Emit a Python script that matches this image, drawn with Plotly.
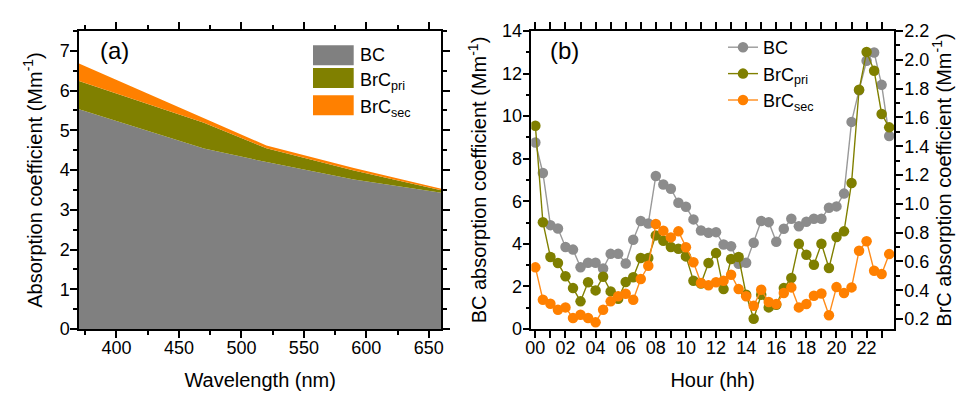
import plotly.graph_objects as go

# ---------------- data ----------------
wavelength = [370, 470, 520, 590, 660]
bc_abs = [5.53, 4.54, 4.20, 3.76, 3.43]
brc_pri_abs = [0.71, 0.65, 0.35, 0.23, 0.06]
brc_sec_abs = [0.44, 0.13, 0.07, 0.06, 0.04]

hours = [0, 0.5, 1, 1.5, 2, 2.5, 3, 3.5, 4, 4.5, 5, 5.5, 6, 6.5, 7, 7.5,
         8, 8.5, 9, 9.5, 10, 10.5, 11, 11.5, 12, 12.5, 13, 13.5, 14, 14.5,
         15, 15.5, 16, 16.5, 17, 17.5, 18, 18.5, 19, 19.5, 20, 20.5, 21,
         21.5, 22, 22.5, 23, 23.5]
bc_hourly = [8.76, 7.33, 4.88, 4.72, 3.85, 3.73, 2.90, 3.11, 3.11, 2.84, 3.53,
             3.53, 3.08, 4.19, 5.07, 4.96, 7.19, 6.79, 6.59, 5.93, 5.74, 5.15,
             4.63, 4.52, 4.55, 3.97, 3.89, 3.06, 3.11, 4.05, 5.07, 5.02, 4.10,
             4.71, 5.18, 4.83, 5.04, 5.18, 5.18, 5.70, 5.76, 6.36, 9.73, 11.22,
             12.60, 12.99, 11.47, 9.07]
brc_pri_hourly = [1.542, 0.872, 0.631, 0.589, 0.497, 0.415, 0.323, 0.455, 0.399,
                  0.494, 0.392, 0.341, 0.457, 0.490, 0.624, 0.624, 0.781, 0.744,
                  0.700, 0.688, 0.635, 0.466, 0.447, 0.589, 0.658, 0.408, 0.617,
                  0.631, 0.369, 0.202, 0.369, 0.281, 0.299, 0.415, 0.485, 0.723,
                  0.647, 0.577, 0.723, 0.554, 0.769, 0.809, 1.145, 1.792, 2.054,
                  1.924, 1.624, 1.531]
brc_sec_hourly = [0.559, 0.334, 0.306, 0.265, 0.281, 0.207, 0.230, 0.207, 0.177,
                  0.265, 0.323, 0.358, 0.376, 0.334, 0.478, 0.570, 0.860, 0.813,
                  0.767, 0.809, 0.698, 0.594, 0.450, 0.434, 0.455, 0.466, 0.508,
                  0.408, 0.358, 0.292, 0.404, 0.318, 0.304, 0.381, 0.420, 0.281,
                  0.304, 0.362, 0.378, 0.226, 0.422, 0.381, 0.420, 0.674, 0.740,
                  0.536, 0.513, 0.651]

hour_tickvals = [0, 2, 4, 6, 8, 10, 12, 14, 16, 18, 20, 22]
hour_ticktext = ["00", "02", "04", "06", "08", "10", "12", "14", "16", "18", "20", "22"]

area_names = ["BC", "BrC<sub>pri</sub>", "BrC<sub>sec</sub>"]
area_colors = ["#808080", "#808000", "#ff8000"]
line_colors = ["#999999", "#808000", "#ff8c1a"]
marker_colors = ["#8c8c8c", "#7f7f00", "#ff8000"]

FONT = "Arial, Liberation Sans, sans-serif"
W, H = 965, 393
ML, MR, MT, MB = 71, 79, 23, 72
PW = W - ML - MR
PH = H - MT - MB


def px2paper_x(px):
    return (px - ML) / PW


def px2paper_y(py):
    return (H - MB - py) / PH


fig = go.Figure()

# ---------------- panel (a): stacked areas ----------------
for vals, name, col in zip([bc_abs, brc_pri_abs, brc_sec_abs], area_names, area_colors):
    fig.add_trace(go.Scatter(
        x=wavelength, y=vals, name=name, mode="lines", stackgroup="abs",
        line=dict(width=0, color=col), fillcolor=col,
        xaxis="x", yaxis="y", showlegend=False))

# ---------------- panel (b): diurnal lines ----------------
fig.add_trace(go.Scatter(
    x=hours, y=bc_hourly, name="BC", mode="lines+markers",
    line=dict(color=line_colors[0], width=1.4),
    marker=dict(color=marker_colors[0], size=10.5),
    xaxis="x2", yaxis="y2"))
fig.add_trace(go.Scatter(
    x=hours, y=brc_pri_hourly, name="BrC<sub>pri</sub>", mode="lines+markers",
    line=dict(color=line_colors[1], width=1.4),
    marker=dict(color=marker_colors[1], size=10.5),
    xaxis="x2", yaxis="y3"))
fig.add_trace(go.Scatter(
    x=hours, y=brc_sec_hourly, name="BrC<sub>sec</sub>", mode="lines+markers",
    line=dict(color=line_colors[2], width=1.4),
    marker=dict(color=marker_colors[2], size=10.5),
    xaxis="x2", yaxis="y3"))

axis_common = dict(
    showline=True, linecolor="black", linewidth=1.5, ticks="outside",
    ticklen=7, tickwidth=1.5, tickcolor="black", showgrid=False, zeroline=False,
    tickfont=dict(family=FONT, size=18, color="black"),
)
title_font = dict(family=FONT, size=20, color="black")

fig.update_layout(
    width=W, height=H,
    margin=dict(l=ML, r=MR, t=MT, b=MB),
    paper_bgcolor="white", plot_bgcolor="white",
    font=dict(family=FONT, color="black"),
    xaxis=dict(**axis_common, domain=[0, px2paper_x(433.3)], range=[370, 660],
               dtick=50, tick0=400, mirror="allticks", ticklabelstandoff=-5,
               minor=dict(dtick=25, tick0=375, ticklen=4, tickwidth=1.5, tickcolor="black", ticks="outside"),
               title=dict(text="Wavelength (nm)", font=title_font, standoff=16)),
    yaxis=dict(**axis_common, range=[0, 7.5], dtick=1, mirror="allticks",
               anchor="x", ticklabelstandoff=-3,
               minor=dict(dtick=0.5, ticklen=4, tickwidth=1.5, tickcolor="black", ticks="outside"),
               title=dict(text="Absorption coefficient (Mm<sup>-1</sup>)", font=title_font, standoff=12)),
    xaxis2=dict(**axis_common, domain=[px2paper_x(523.3), 1], range=[-0.27, 23.82],
                tickmode="array", tickvals=hour_tickvals, ticktext=hour_ticktext,
                mirror="allticks", anchor="y2", ticklabelstandoff=-5,
                minor=dict(tickmode="linear", dtick=1, tick0=0, ticklen=4, tickwidth=1.5,
                           tickcolor="black", ticks="outside"),
                title=dict(text="Hour (hh)", font=title_font, standoff=16)),
    yaxis2=dict(**axis_common, range=[0, 14], dtick=2, anchor="x2", ticklabelstandoff=-3,
                minor=dict(dtick=1, ticklen=4, tickwidth=1.5, tickcolor="black", ticks="outside"),
                title=dict(text="BC absorption coefficient (Mm<sup>-1</sup>)", font=title_font, standoff=10)),
    yaxis3=dict(**axis_common, range=[0.131, 2.2], dtick=0.2, tick0=0.2, tickformat=".1f",
                overlaying="y2", side="right", anchor="x2", ticklabelstandoff=-2,
                minor=dict(dtick=0.1, tick0=0.2, ticklen=4, tickwidth=1.5, tickcolor="black", ticks="outside"),
                title=dict(text="BrC absorption coefficient (Mm<sup>-1</sup>)", font=title_font, standoff=8)),
    legend=dict(x=px2paper_x(715), y=px2paper_y(21), xanchor="left", yanchor="top",
                bgcolor="rgba(0,0,0,0)", font=dict(family=FONT, size=18, color="black"),
                itemwidth=30, tracegroupgap=0, traceorder="normal"),
)

# manual legend for panel (a)
box_rows = [(37.3, 57.3, 47.3), (60.0, 80.0, 70.0), (87.3, 107.3, 97.3)]
for (y0, y1, yc), name, col in zip(box_rows, area_names, area_colors):
    fig.add_shape(type="rect", xref="paper", yref="paper",
                  x0=px2paper_x(305), x1=px2paper_x(345.7),
                  y0=px2paper_y(y1), y1=px2paper_y(y0),
                  fillcolor=col, line=dict(width=0))
    fig.add_annotation(text=name, xref="paper", yref="paper",
                       x=px2paper_x(350), y=px2paper_y(yc + (3 if "sub" in name else 0)),
                       xanchor="left", yanchor="middle", showarrow=False,
                       font=dict(family=FONT, size=18, color="black"))

fig.add_annotation(text="(a)", xref="paper", yref="paper", x=px2paper_x(106), y=px2paper_y(42.5),
                   xanchor="center", yanchor="middle", showarrow=False,
                   font=dict(family=FONT, size=24, color="black"))
fig.add_annotation(text="(b)", xref="paper", yref="paper", x=px2paper_x(556.7), y=px2paper_y(42.5),
                   xanchor="center", yanchor="middle", showarrow=False,
                   font=dict(family=FONT, size=24, color="black"))

fig.write_html("out.html")
